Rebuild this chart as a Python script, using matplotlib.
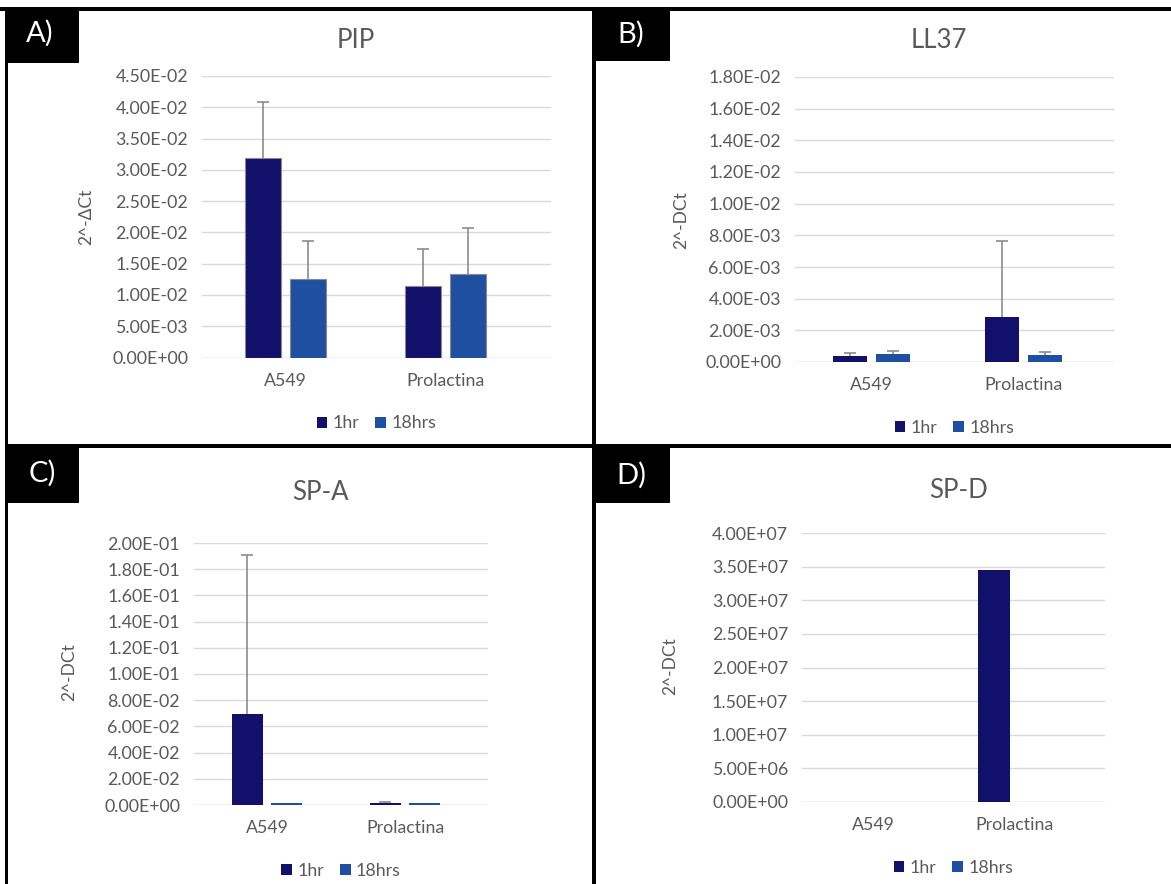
import matplotlib
matplotlib.use("Agg")
import matplotlib.pyplot as plt
from matplotlib.patches import Rectangle
import numpy as np

plt.rcParams['font.family'] = ['Lato', 'DejaVu Sans']

# ---------------- data ----------------
categories = ["A549", "Prolactina"]
series_names = ["1hr", "18hrs"]

pip_1hr = [0.0319, 0.0114]
pip_18hrs = [0.0125, 0.0133]
pip_err_1hr = [0.0089, 0.0059]
pip_err_18hrs = [0.0062, 0.0074]

ll37_1hr = [0.00038, 0.00287]
ll37_18hrs = [0.00053, 0.00044]
ll37_err_1hr = [0.00017, 0.00478]
ll37_err_18hrs = [0.00016, 0.00019]

spa_1hr = [0.0695, 0.0013]
spa_18hrs = [0.0013, 0.0012]
spa_err_1hr = [0.1212, 0.0012]
spa_err_18hrs = [0.0, 0.0]

spd_1hr = [0.0, 3.45e7]
spd_18hrs = [0.0, 0.0]

titles = ["PIP", "LL37", "SP-A", "SP-D"]
ylabels = ["2^-ΔCt", "2^-DCt", "2^-DCt", "2^-DCt"]
panel_letters = ["A)", "B)", "C)", "D)"]

# ---------------- styling ----------------
W, H = 1171, 884
C1 = "#11116B"
C2 = "#1F4FA0"
GRID = "#D9D9D9"
TXT = "#595959"
ERR = "#8C8C8C"

fig = plt.figure(figsize=(W / 100, H / 100), dpi=100)
fig.patch.set_facecolor("white")


def rect(x0, x1, yt, yb):
    return [x0 / W, 1 - yb / H, (x1 - x0) / W, (yb - yt) / H]


def black(x0, y0, x1, y1):
    fig.add_artist(Rectangle((x0 / W, 1 - y1 / H), (x1 - x0) / W, (y1 - y0) / H,
                             transform=fig.transFigure, facecolor="black",
                             edgecolor="none", zorder=10))


panels = [
    dict(rect=(202, 551, 76, 357.5), xlim=(-0.522, 1.659), ylim=0.045, step=0.005,
         v1=pip_1hr, v2=pip_18hrs, e1=pip_err_1hr, e2=pip_err_18hrs, edge=True,
         title_xy=(356, 41), ylab_xy=(86, 217)),
    dict(rect=(795, 1114, 77, 362), xlim=(-0.505, 1.600), ylim=0.018, step=0.002,
         v1=ll37_1hr, v2=ll37_18hrs, e1=ll37_err_1hr, e2=ll37_err_18hrs, edge=False,
         title_xy=(939, 41), ylab_xy=(681, 220)),
    dict(rect=(194, 488, 543, 805), xlim=(-0.529, 1.601), ylim=0.2, step=0.02,
         v1=spa_1hr, v2=spa_18hrs, e1=spa_err_1hr, e2=spa_err_18hrs, edge=False,
         title_xy=(320, 493), ylab_xy=(69, 672)),
    dict(rect=(802, 1105, 533, 802), xlim=(-0.502, 1.640), ylim=4e7, step=5e6,
         v1=spd_1hr, v2=spd_18hrs, e1=None, e2=None, edge=False,
         title_xy=(959, 491), ylab_xy=(670, 666)),
]

bw = 0.225
off = 0.142
x = np.arange(len(categories))

for i, p in enumerate(panels):
    ax = fig.add_axes(rect(*p["rect"]))
    ax.set_facecolor("white")
    ax.set_axisbelow(True)
    ec = "#8A8A8A" if p["edge"] else "none"
    lw = 0.8 if p["edge"] else 0
    ax.bar(x - off, p["v1"], bw, color=C1, edgecolor=ec, linewidth=lw,
           label=series_names[0], zorder=2)
    ax.bar(x + off, p["v2"], bw, color=C2, edgecolor=ec, linewidth=lw,
           label=series_names[1], zorder=2)
    for xs, vals, errs in [(x - off, p["v1"], p["e1"]), (x + off, p["v2"], p["e2"])]:
        if errs is None:
            continue
        for xi, v, e in zip(xs, vals, errs):
            if e <= 0:
                continue
            _, caps, _ = ax.errorbar([xi], [v], yerr=[[0], [e]], fmt="none",
                                     ecolor=ERR, elinewidth=1.2, capsize=4,
                                     capthick=1.2, zorder=3)
            for c in caps:
                if np.allclose(c.get_ydata(), [v]):
                    c.set_visible(False)
    ax.set_xlim(*p["xlim"])
    ax.set_ylim(0, p["ylim"])
    ticks = np.arange(0, p["ylim"] + p["step"] / 2, p["step"])
    ax.set_yticks(ticks)
    ax.set_yticklabels([format(t, ".2E") for t in ticks], color=TXT, fontsize=12.8)
    ax.set_xticks(x)
    ax.set_xticklabels(categories, color=TXT, fontsize=12.8)
    ax.tick_params(axis="both", length=0)
    ax.tick_params(axis="y", pad=10)
    ax.tick_params(axis="x", pad=11)
    ax.grid(axis="y", color=GRID, linewidth=1.0)
    for s in ax.spines.values():
        s.set_visible(False)
    ax.axhline(0, color=GRID, linewidth=1.0, zorder=1)

    x0, x1, yt, yb = p["rect"]
    h = yb - yt
    leg = ax.legend(loc="center", bbox_to_anchor=(0.5, -66 / h), ncol=2,
                    frameon=False, fontsize=12.8, handlelength=0.6,
                    handleheight=0.6, handletextpad=0.3, columnspacing=0.9,
                    labelcolor=TXT)
    for hd in leg.legend_handles:
        hd.set_edgecolor("none")

    tx, ty = p["title_xy"]
    fig.text(tx / W, 1 - ty / H, titles[i], ha="center", va="center",
             fontsize=18.5, color=TXT)
    lx, ly = p["ylab_xy"]
    fig.text(lx / W, 1 - ly / H, ylabels[i], ha="center", va="center",
             rotation=90, fontsize=12.5, color=TXT)

# ---------------- frame and panel labels ----------------
black(0, 7, W, 11)          # top band
black(5, 7, 8, H)           # left border
black(592, 7, 596, H)       # vertical divider
black(5, 444, W, 448)       # horizontal divider
black(5, 7, 79, 63)         # A box
black(592, 7, 670, 61)      # B box
black(5, 444, 79, 503)      # C box
black(592, 444, 670, 503)   # D box

label_pos = [(40, 33), (631, 34), (42, 473), (631, 475)]
for (lx, ly), t in zip(label_pos, panel_letters):
    fig.text(lx / W, 1 - ly / H, t, ha="center", va="center", fontsize=21,
             color="white", zorder=11)

fig.savefig("out.png", dpi=100, facecolor="white")
